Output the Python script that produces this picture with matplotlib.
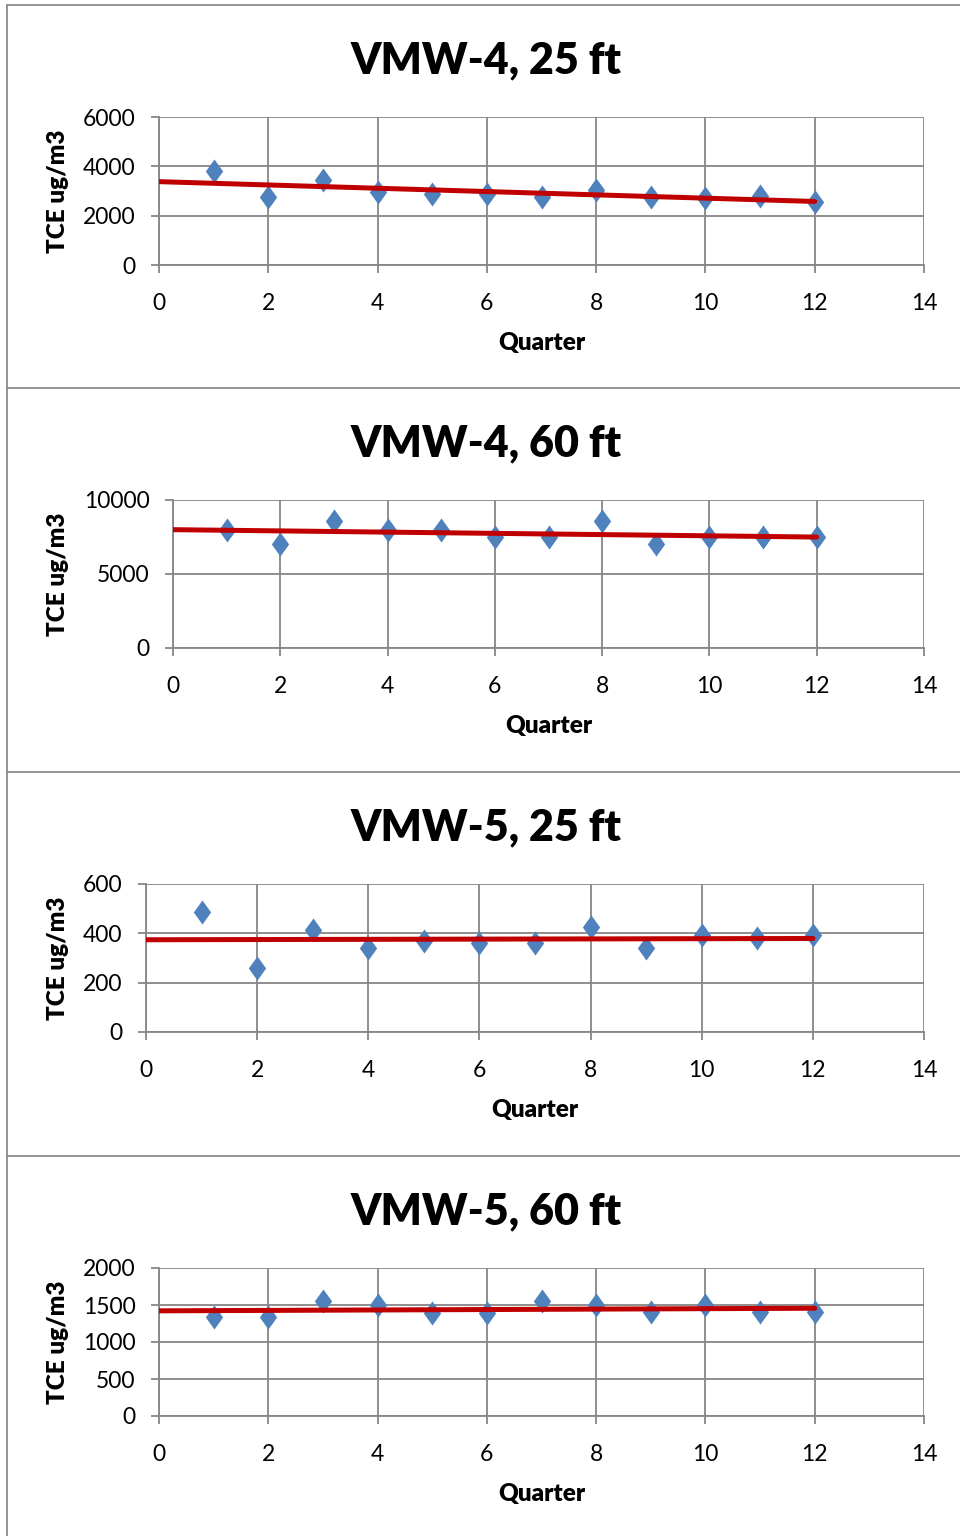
import numpy as np
import matplotlib
matplotlib.use("Agg")
import matplotlib.pyplot as plt
from matplotlib.lines import Line2D

plt.rcParams['font.family'] = ['Lato', 'DejaVu Sans']

# data
quarters = [1, 2, 3, 4, 5, 6, 7, 8, 9, 10, 11, 12]
titles = ["VMW-4, 25 ft", "VMW-4, 60 ft", "VMW-5, 25 ft", "VMW-5, 60 ft"]
vmw4_25 = [3800, 2770, 3440, 2940, 2885, 2885, 2760, 3030, 2750, 2720, 2790, 2560]
vmw4_60 = [8000, 7000, 8600, 8000, 8000, 7500, 7500, 8600, 7000, 7500, 7500, 7500]
vmw5_25 = [485, 259, 414, 341, 367, 361, 360, 425, 340, 395, 380, 394]
vmw5_60 = [1335, 1335, 1560, 1506, 1393, 1393, 1560, 1500, 1400, 1500, 1400, 1400]
y_ticks = [[0, 2000, 4000, 6000],
           [0, 5000, 10000],
           [0, 200, 400, 600],
           [0, 500, 1000, 1500, 2000]]
x_ticks = [0, 2, 4, 6, 8, 10, 12, 14]

series = [vmw4_25, vmw4_60, vmw5_25, vmw5_60]

W, H = 960, 1536
grid_col = "#868686"
diamond = [(0, 1), (0.72, 0), (0, -1), (-0.72, 0), (0, 1)]

fig = plt.figure(figsize=(W / 100, H / 100), dpi=100)

# panel layout in pixels
panel_tops = [5, 388, 772, 1156]
axes_left = [159, 173, 146, 159]
axes_right = 924


def px_x(x):
    return x / W


def px_y(y):
    return 1 - y / H


# panel borders
fig.add_artist(Line2D([px_x(7), px_x(7)], [px_y(5), 0], color="#8c8c8c", lw=1.3))
for top in panel_tops:
    fig.add_artist(Line2D([px_x(7), 1], [px_y(top), px_y(top)], color="#8c8c8c", lw=1.3))

for i, vals in enumerate(series):
    top = panel_tops[i]
    ax_top = top + 112
    ax_bot = top + 260
    left = axes_left[i]
    ax = fig.add_axes([px_x(left), px_y(ax_bot), px_x(axes_right - left), (ax_bot - ax_top) / H])

    ax.scatter(quarters, vals, marker=diamond, s=300, color="#4F81BD", zorder=3, linewidths=0)

    # linear trendline from x=0 to last quarter
    slope, intercept = np.polyfit(quarters, vals, 1)
    xs = np.array([0, quarters[-1]])
    ax.plot(xs, slope * xs + intercept, color="#C00000", lw=3.6, solid_capstyle="round", zorder=4)

    ax.set_xlim(0, 14)
    ax.set_ylim(y_ticks[i][0], y_ticks[i][-1])
    ax.set_xticks(x_ticks)
    ax.set_yticks(y_ticks[i])
    ax.grid(True, color=grid_col, lw=1.3)
    ax.set_axisbelow(True)
    for s in ["top", "right"]:
        ax.spines[s].set_visible(False)
    for s in ["left", "bottom"]:
        ax.spines[s].set_color(grid_col)
        ax.spines[s].set_linewidth(1.3)
    ax.tick_params(axis="both", colors=grid_col, labelcolor="black", labelsize=16.5,
                   length=6, width=1.3)
    ax.tick_params(axis="x", pad=14)
    ax.tick_params(axis="y", pad=11)
    for lab in ax.get_xticklabels() + ax.get_yticklabels():
        lab.set_clip_on(False)

    ax.set_xlabel("Quarter", fontsize=17.5, fontweight="heavy", labelpad=13)
    ax.yaxis.set_label_coords((69 - left) / (axes_right - left), 0.5)
    ax.set_ylabel("TCE ug/m3", fontsize=17.5, fontweight="heavy")

    fig.text(px_x(486), px_y(top + 55), titles[i], fontsize=31, fontweight="heavy",
             ha="center", va="center")

plt.savefig("out.png", dpi=100)
